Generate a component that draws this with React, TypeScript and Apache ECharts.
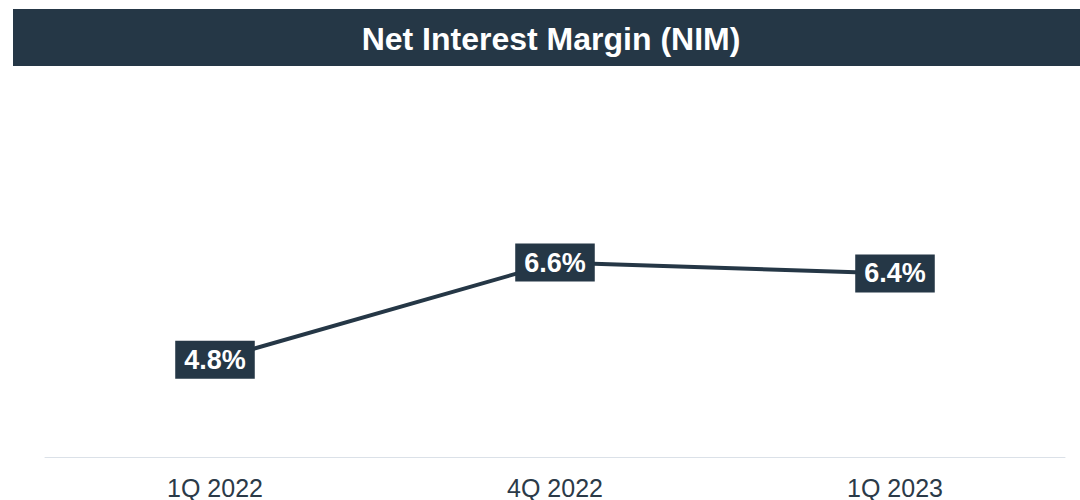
import React, { useEffect, useRef } from "react";
import * as echarts from "echarts";

const titleText = "Net Interest Margin (NIM)";
const categories = ["1Q 2022", "4Q 2022", "1Q 2023"];
const nimValues = [4.8, 6.6, 6.4];

const NAVY = "#253746";
const FONT = "Arial, 'Liberation Sans', Helvetica, sans-serif";

export default function App() {
  const ref = useRef<HTMLDivElement>(null);
  useEffect(() => {
    if (!ref.current) return;
    const chart = echarts.init(ref.current, undefined, { renderer: "svg" });
    chart.setOption({
      animation: false,
      backgroundColor: "#ffffff",
      textStyle: { fontFamily: FONT },
      graphic: [
        {
          type: "rect",
          shape: { x: 13, y: 9, width: 1067, height: 57 },
          style: { fill: NAVY },
          z: 0,
        },
        {
          type: "text",
          x: 551,
          y: 39,
          style: {
            text: titleText,
            fill: "#ffffff",
            font: `bold 32px ${FONT}`,
            textAlign: "center",
            textVerticalAlign: "middle",
          },
          z: 1,
        },
      ],
      grid: { left: 45, right: 15, top: 187, bottom: 43 },
      xAxis: {
        type: "category",
        data: categories,
        boundaryGap: true,
        axisLine: { show: true, lineStyle: { color: "#dbe1e8", width: 1 } },
        axisTick: { show: false },
        axisLabel: {
          color: "#2b3a48",
          fontSize: 25,
          fontFamily: FONT,
          margin: 18,
        },
        splitLine: { show: false },
      },
      yAxis: {
        type: "value",
        min: 3,
        max: 8,
        show: false,
        splitLine: { show: false },
      },
      series: [
        {
          type: "line",
          data: nimValues,
          lineStyle: { color: NAVY, width: 4 },
          itemStyle: { color: NAVY },
          symbol: "circle",
          symbolSize: 4,
          label: {
            show: true,
            position: "inside",
            formatter: (p: any) => `${Number(p.value).toFixed(1)}%`,
            color: "#ffffff",
            fontWeight: "bold",
            fontSize: 27,
            lineHeight: 27,
            fontFamily: FONT,
            backgroundColor: NAVY,
            padding: [6, 9, 5, 9],
          },
        },
      ],
    });
    return () => chart.dispose();
  }, []);
  return (
    <div
      ref={ref}
      style={{ position: "fixed", left: 0, top: 0, width: 1080, height: 500 }}
    />
  );
}
